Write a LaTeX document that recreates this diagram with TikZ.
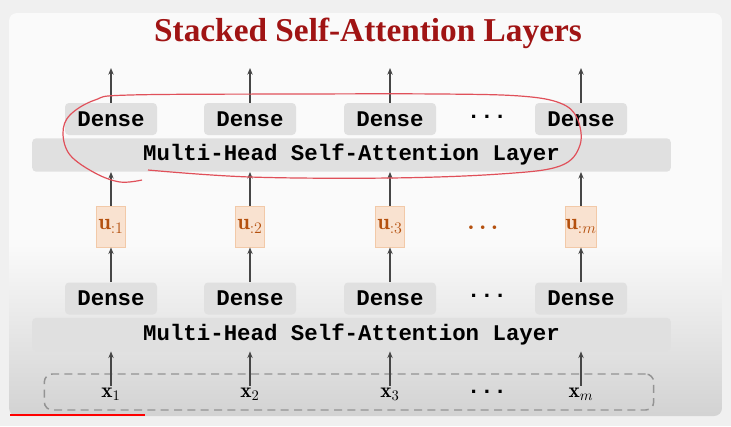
\documentclass[tikz,border=0pt]{standalone}
\usepackage{fontspec}
\usepackage{amsmath}
\setmonofont{Liberation Mono}
\newfontfamily\titlefont{Liberation Serif}
\usepackage{tikz}
\usetikzlibrary{positioning, arrows.meta}

\definecolor{titlered}{HTML}{A01414}
\definecolor{boxgray}{HTML}{E0E0E0}
\definecolor{ufill}{HTML}{F9E2D0}
\definecolor{uline}{HTML}{F2C9A8}
\definecolor{utext}{HTML}{B4500E}
\definecolor{arrowgray}{HTML}{464646}
\definecolor{inkred}{HTML}{E0505A}

\tikzset{
  dense/.style={fill=boxgray, rounded corners=3pt, minimum width=69pt, minimum height=24pt,
    inner sep=0pt, font=\ttfamily\bfseries\fontsize{16.8}{18}\selectfont},
  attn/.style={fill=boxgray, rounded corners=3pt, minimum width=479pt, minimum height=25pt,
    inner sep=0pt, font=\ttfamily\bfseries\fontsize{16.8}{18}\selectfont},
  ubox/.style={fill=ufill, draw=uline, minimum width=22pt, minimum height=31pt,
    inner sep=0pt, text=utext, font=\fontsize{17}{19}\selectfont},
  xlabel/.style={inner sep=1pt, font=\fontsize{16}{18}\selectfont},
  up/.style={-{Stealth[length=5pt,width=4pt]}, arrowgray, line width=1.1pt},
}

\begin{document}
\begin{tikzpicture}[x=0.75pt, y=-0.75pt]
\useasboundingbox (0,0) rectangle (731,426);

% Slide
\fill[gray!12] (0,0) rectangle (731,426);
\begin{scope}
\clip[rounded corners=6pt] (9,13) rectangle (722,416);
\fill[white!98!black] (9,13) rectangle (722,245);
\shade[top color=white!98!black, bottom color=gray!35] (9,245) rectangle (722,416);
\end{scope}
\draw[red, line width=2.2pt] (10,415) -- (145,415);

% Title
\node[text=titlered, font=\titlefont\bfseries\fontsize{25}{28}\selectfont] (title) at (368,33) {Stacked Self-Attention Layers};

% Layers
\node[attn] (attn1) at (351.5,334.5) {Multi-Head Self-Attention Layer};
\node[attn] (attn2) at (351.5,155) {Multi-Head Self-Attention Layer};
\node[draw=gray!85, dashed, dash pattern=on 6pt off 4pt, line width=1.1pt, rounded corners=6pt,
  minimum width=457pt, minimum height=27pt] (inputs) at (349,392) {};

% Columns
\foreach \x/\k [count=\i] in {111/1, 250/2, 390/3, 581/m} {
  \node[xlabel] (x\i) at (\x,394) {$\mathbf{x}_{\k}$};
  \node[dense] (densea\i) at (\x,298.5) {Dense};
  \node[ubox] (u\i) at (\x,226.5) {$\mathbf{u}_{:\k}$};
  \node[dense] (denseb\i) at (\x,119) {Dense};
  \coordinate (out\i) at (\x,68);
  \draw[up] (x\i.north) -- (x\i.north |- attn1.south);
  \draw[up] (densea\i.north) -- (u\i.south);
  \draw[up] (u\i.north) -- (u\i.north |- attn2.south);
  \draw[up] (denseb\i.north) -- (out\i);
}

% Dots
\node[font=\ttfamily\bfseries\fontsize{16.5}{18}\selectfont] (dotsx) at (487,392) {...};
\node[font=\ttfamily\bfseries\fontsize{16.5}{18}\selectfont] (dotsa) at (487,296) {...};
\node[text=utext, font=\fontsize{16}{18}\selectfont] (dotsu) at (485,228) {$\boldsymbol{\cdots}$};
\node[font=\ttfamily\bfseries\fontsize{16.5}{18}\selectfont] (dotsb) at (487,117) {...};

% Annotation
\draw[inkred, line width=0.9pt] plot[smooth, tension=0.6] coordinates {
  (148,170) (250,177) (390,178) (500,174) (560,166) (580,145) (577,118) (560,103)
  (520,96) (440,94) (300,94) (130,95) (95,100) (70,115) (63,133) (70,155)
  (95,173) (120,182) (142,180)};
\end{tikzpicture}
\end{document}
